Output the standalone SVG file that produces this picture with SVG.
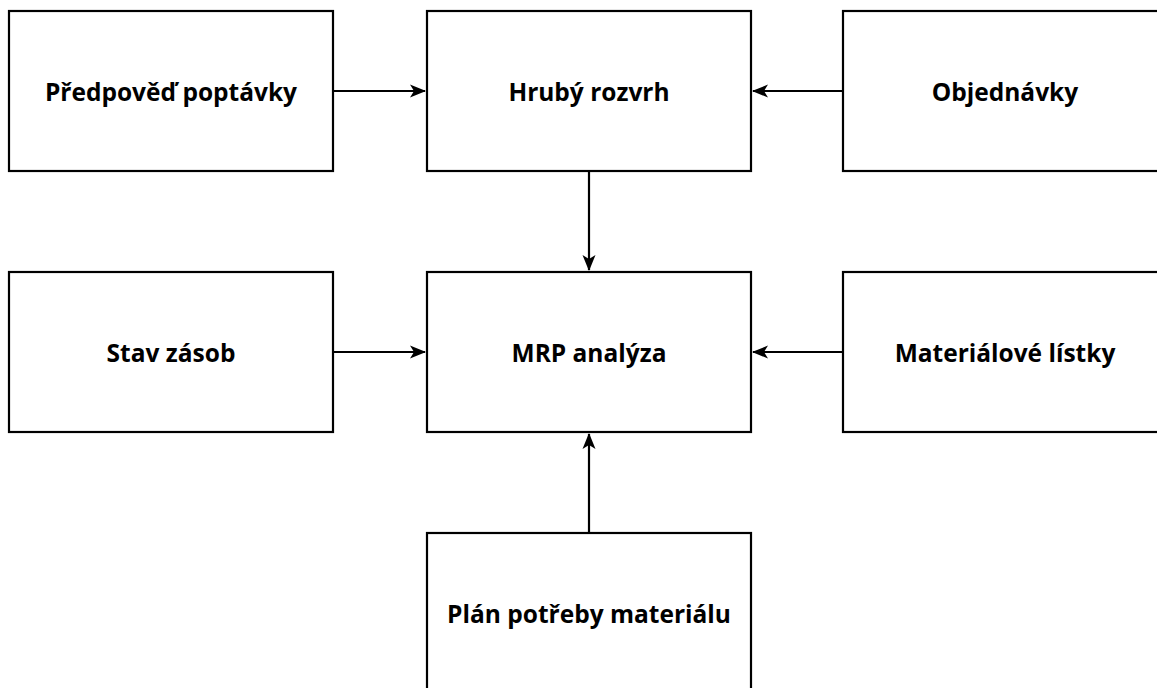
<svg xmlns="http://www.w3.org/2000/svg" width="1157" height="688" viewBox="0 0 1157 688">
<style>
.box{fill:#fff;stroke:#000;stroke-width:2.2}
.lbl{font-family:"Open Sans","Liberation Sans",sans-serif;font-weight:700;font-size:24.5px;fill:#000;text-anchor:middle;dominant-baseline:central}
.edge{fill:none;stroke:#000;stroke-width:2.2}
</style>
<defs>
<marker id="arr" viewBox="0 0 16 14" refX="15" refY="7" markerWidth="16" markerHeight="14" markerUnits="userSpaceOnUse" orient="auto">
<path d="M0,0.5 L16,7 L0,13.5 L4,7 Z" fill="#000"/>
</marker>
</defs>
<rect width="1157" height="688" fill="#fff"/>
<g id="connectors">
<line class="edge" x1="333" y1="91" x2="425" y2="91" marker-end="url(#arr)"/>
<line class="edge" x1="843" y1="91" x2="753" y2="91" marker-end="url(#arr)"/>
<line class="edge" x1="589" y1="171" x2="589" y2="270" marker-end="url(#arr)"/>
<line class="edge" x1="333" y1="352" x2="425" y2="352" marker-end="url(#arr)"/>
<line class="edge" x1="843" y1="352" x2="753" y2="352" marker-end="url(#arr)"/>
<line class="edge" x1="589" y1="533" x2="589" y2="434" marker-end="url(#arr)"/>
</g>
<g id="n1"><rect class="box" x="9" y="11" width="324" height="160"/><text class="lbl" x="171" y="91">Předpověď poptávky</text></g>
<g id="n2"><rect class="box" x="427" y="11" width="324" height="160"/><text class="lbl" x="589" y="91">Hrubý rozvrh</text></g>
<g id="n3"><rect class="box" x="843" y="11" width="324" height="160"/><text class="lbl" x="1005" y="91">Objednávky</text></g>
<g id="n4"><rect class="box" x="9" y="272" width="324" height="160"/><text class="lbl" x="171" y="352">Stav zásob</text></g>
<g id="n5"><rect class="box" x="427" y="272" width="324" height="160"/><text class="lbl" x="589" y="352">MRP analýza</text></g>
<g id="n6"><rect class="box" x="843" y="272" width="324" height="160"/><text class="lbl" x="1005" y="352">Materiálové lístky</text></g>
<g id="n7"><rect class="box" x="427" y="533" width="324" height="160"/><text class="lbl" x="589" y="613">Plán potřeby materiálu</text></g>
</svg>
